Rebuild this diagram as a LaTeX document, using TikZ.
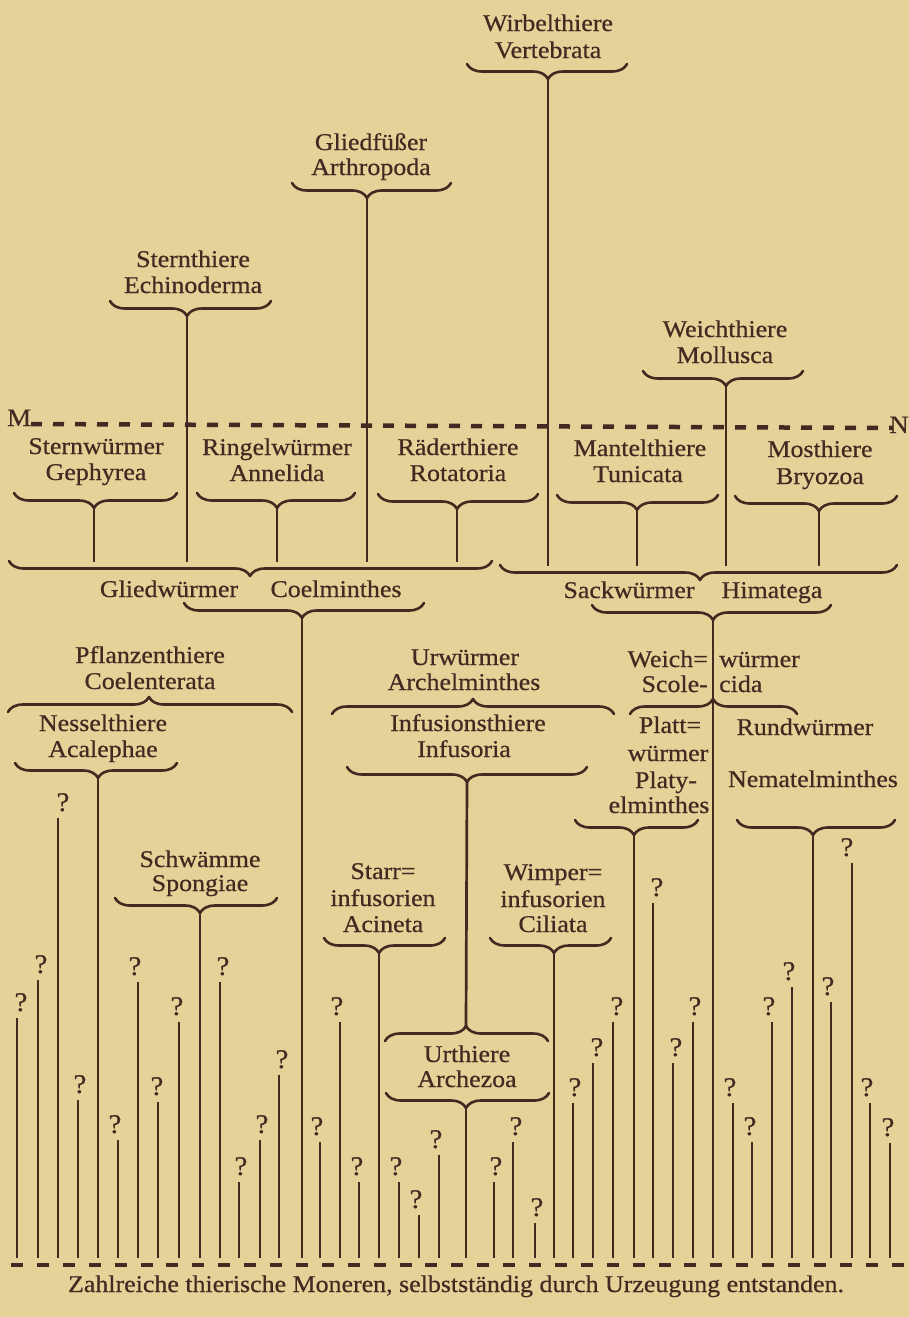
\documentclass[tikz,border=0pt]{standalone}
\usepackage{fontspec}
\setmainfont{Liberation Serif}[FakeStretch=1.08,FakeBold=0.6]
\usetikzlibrary{decorations.pathreplacing}
\definecolor{paper}{RGB}{228,211,152}
\definecolor{ink}{RGB}{66,42,34}
% brace with tip pointing down: name, x1, x2, xtip, y of ends
\newcommand\bdown[5]{%
  \pgfmathsetmacro\myasp{(#3-#4)/(#3-#2)}%
  \draw[brc,decoration={brace,amplitude=15pt,aspect=\myasp}] (#3,#5) -- (#2,#5);%
  \coordinate (#1) at (#4,#5+15);}
% brace with tip pointing up
\newcommand\bup[5]{%
  \pgfmathsetmacro\myasp{(#4-#2)/(#3-#2)}%
  \draw[brc,decoration={brace,amplitude=15pt,aspect=\myasp}] (#2,#5) -- (#3,#5);%
  \coordinate (#1) at (#4,#5-15);}
\begin{document}
\begin{tikzpicture}[x=1pt,y=-1pt,
  lbl/.style={anchor=base,inner sep=0pt,text=ink,font=\fontsize{24}{28}\selectfont},
  qm/.style={anchor=base,inner sep=0pt,text=ink,font=\fontsize{27}{30}\selectfont},
  brc/.style={draw=ink,line width=2.6pt,line cap=round,line join=round,decorate},
  stemk/.style={draw=ink,line width=2.7pt},
  stemn/.style={draw=ink,line width=1.2pt},
  dashrow/.style={draw=ink,line width=4.5pt,dash pattern=on 12pt off 13.9pt},
  mnline/.style={draw=ink,line width=4.5pt,dash pattern=on 11pt off 11pt}]
\fill[paper] (0,0) rectangle (909,1317);
\useasboundingbox (0,0) rectangle (909,1317);

% levels
\coordinate (floor) at (0,1258);
\coordinate (lvlL) at (0,562);
\coordinate (lvlR) at (0,566);

% ---------- labels ----------
\node[lbl] (vertG) at (548,31) {Wirbelthiere};
\node[lbl] (vertL) at (548,58) {Vertebrata};
\node[lbl] (arthG) at (371,150) {Gliedfüßer};
\node[lbl] (arthL) at (371,175) {Arthropoda};
\node[lbl] (echiG) at (193,267) {Sternthiere};
\node[lbl] (echiL) at (193,293) {Echinoderma};
\node[lbl] (mollG) at (725,337) {Weichthiere};
\node[lbl] (mollL) at (725,363) {Mollusca};

\node[lbl,anchor=base west,font=\fontsize{25}{28}\selectfont] (M) at (7,426) {M};
\node[lbl,anchor=base east,font=\fontsize{25}{28}\selectfont] (N) at (909,433) {N};
\coordinate (mnL) at (31,424);
\coordinate (mnR) at (893,428);
\draw[mnline] (mnL) -- (mnR);

\node[lbl] (gephG) at (96,454) {Sternwürmer};
\node[lbl] (gephL) at (96,480) {Gephyrea};
\node[lbl] (anneG) at (277,455) {Ringelwürmer};
\node[lbl] (anneL) at (277,481) {Annelida};
\node[lbl] (rotaG) at (458,455) {Räderthiere};
\node[lbl] (rotaL) at (458,481) {Rotatoria};
\node[lbl] (tuniG) at (640,456) {Mantelthiere};
\node[lbl] (tuniL) at (638,482) {Tunicata};
\node[lbl] (bryoG) at (820,457) {Mosthiere};
\node[lbl] (bryoL) at (820,484) {Bryozoa};

\node[lbl] (coelmG) at (169,597) {Gliedwürmer};
\node[lbl] (coelmL) at (336,597) {Coelminthes};
\node[lbl] (himaG) at (629,598) {Sackwürmer};
\node[lbl] (himaL) at (772,598) {Himatega};

\node[lbl] (coenG) at (150,663) {Pflanzenthiere};
\node[lbl] (coenL) at (150,689) {Coelenterata};
\node[lbl] (acalG) at (103,731) {Nesselthiere};
\node[lbl] (acalL) at (103,757) {Acalephae};
\node[lbl] (archeG) at (465,665) {Urwürmer};
\node[lbl] (archeL) at (464,690) {Archelminthes};
\node[lbl] (infuG) at (468,731) {Infusionsthiere};
\node[lbl] (infuL) at (464,757) {Infusoria};
\node[lbl] (sponG) at (200,867) {Schwämme};
\node[lbl] (sponL) at (200,891) {Spongiae};
\node[lbl] (acinA) at (383,879) {Starr=};
\node[lbl] (acinB) at (383,906) {infusorien};
\node[lbl] (acinL) at (383,932) {Acineta};
\node[lbl] (ciliA) at (553,880) {Wimper=};
\node[lbl] (ciliB) at (553,907) {infusorien};
\node[lbl] (ciliL) at (553,932) {Ciliata};
\node[lbl] (urthG) at (467,1062) {Urthiere};
\node[lbl] (urthL) at (467,1087) {Archezoa};

\node[lbl,anchor=base east] (scoA) at (708,667) {Weich=};
\node[lbl,anchor=base west] (scoB) at (719,667) {würmer};
\node[lbl,anchor=base east] (scoC) at (708,692) {Scole-};
\node[lbl,anchor=base west] (scoD) at (719,692) {cida};
\node[lbl] (platA) at (670,733) {Platt=};
\node[lbl] (platB) at (668,761) {würmer};
\node[lbl] (platC) at (666,788) {Platy-};
\node[lbl] (platD) at (659,813) {elminthes};
\node[lbl] (nemaG) at (805,735) {Rundwürmer};
\node[lbl] (nemaL) at (813,787) {Nematelminthes};

\node[lbl] (foot) at (456,1292) {Zahlreiche thierische Moneren, selbstständig durch Urzeugung entstanden.};

% ---------- braces ----------
\bdown{vert}{467}{627}{548}{64}
\bdown{arth}{292}{451}{367}{183}
\bdown{echi}{110}{271}{187}{301}
\bdown{moll}{643}{803}{726}{371}
\bdown{geph}{14}{177}{94}{493}
\bdown{anne}{197}{355}{277}{493}
\bdown{rota}{378}{538}{457}{494}
\bdown{tuni}{557}{718}{637}{495}
\bdown{bryo}{735}{897}{819}{496}
\bdown{coelU}{9}{492}{250}{561}
\bdown{himaU}{500}{897}{700}{565}
\bdown{coelL}{184}{424}{302}{603}
\bdown{himaL}{592}{831}{713}{605}
\bdown{acal}{15}{177}{98}{763}
\bdown{infu}{347}{587}{467}{767}
\bdown{spon}{115}{277}{200}{898}
\bdown{plat}{575}{698}{634}{820}
\bdown{nema}{737}{895}{813}{820}
\bdown{acin}{324}{445}{379}{938}
\bdown{cili}{490}{611}{554}{938}
\bdown{archL}{386}{549}{466}{1093}
\bup{coen}{8}{292}{149}{712}
\bup{archel}{332}{614}{473}{714}
\bup{scole}{630}{797}{713}{714}
\bup{archU}{385}{548}{466}{1041}

% ---------- stems ----------
\draw[stemk] (vert) -- (vert |- lvlR);
\draw[stemk] (arth) -- (arth |- lvlL);
\draw[stemk] (echi) -- (echi |- lvlL);
\draw[stemk] (moll) -- (moll |- lvlR);
\draw[stemn] (geph) -- (geph |- lvlL);
\draw[stemn] (anne) -- (anne |- lvlL);
\draw[stemn] (rota) -- (rota |- lvlL);
\draw[stemn] (tuni) -- (tuni |- lvlR);
\draw[stemn] (bryo) -- (bryo |- lvlR);
\draw[stemk] (coelL) -- (coelL |- floor);
\draw[stemk] (himaL) -- (himaL |- floor);
\draw[stemk] (acal) -- (acal |- floor);
\draw[stemk] (spon) -- (spon |- floor);
\draw[stemk] (infu) -- (archU);
\draw[stemk] (acin) -- (acin |- floor);
\draw[stemk] (cili) -- (cili |- floor);
\draw[stemk] (archL) -- (archL |- floor);
\draw[stemk] (plat) -- (plat |- floor);
\draw[stemk] (nema) -- (nema |- floor);

% ---------- question-mark lines ----------
\foreach \qx/\lx/\t [count=\i] in {21/17/1018, 41/38/980, 63/58/818, 80/78/1100,
  115/118/1140, 135/138/982, 157/158/1102, 177/179/1022, 223/220/982,
  241/239/1182, 262/260/1140, 282/279/1075, 317/320/1142, 337/340/1022,
  357/359/1182, 396/399/1182, 416/419/1215, 436/439/1155, 496/494/1182,
  516/513/1142, 537/535/1223, 575/573/1103, 597/593/1063, 617/613/1022,
  657/653/903, 676/673/1063, 695/693/1022, 730/733/1103, 750/752/1142,
  769/772/1022, 789/792/987, 828/831/1002, 847/852/863, 867/870/1103,
  888/890/1143} {
  \node[qm] (q\i) at (\qx,\t-7) {?};
  \coordinate (qt\i) at (\lx,\t);
  \draw[stemn] (qt\i) -- (qt\i |- floor);
}

% ---------- bottom dashed row ----------
\coordinate (dL) at (11,1265);
\coordinate (dR) at (905,1265);
\draw[dashrow] (dL) -- (dR);
\end{tikzpicture}
\end{document}
